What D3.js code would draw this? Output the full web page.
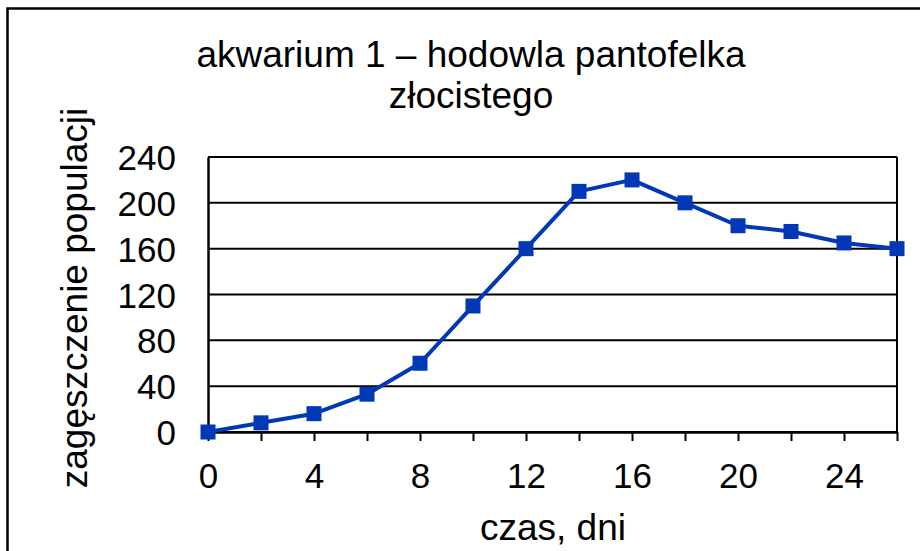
<!DOCTYPE html>
<html>
<head>
<meta charset="utf-8">
<script src="https://cdn.jsdelivr.net/npm/d3@7/dist/d3.min.js"></script>
<style>
  html, body { margin: 0; padding: 0; background: #fff; }
  svg { display: block; font-family: "Liberation Sans", Arial, sans-serif; }
</style>
</head>
<body>
<svg id="chart" width="920" height="551"></svg>
<script>
(function(){
"use strict";

// data
const days = [0, 2, 4, 6, 8, 10, 12, 14, 16, 18, 20, 22, 24, 26];
const density = [0, 8, 16, 33, 60, 110, 160, 210, 220, 200, 180, 175, 165, 160];
const xTickLabels = [0, 4, 8, 12, 16, 20, 24];
const yTickLabels = [0, 40, 80, 120, 160, 200, 240];
const titleLines = ["akwarium 1 – hodowla pantofelka", "złocistego"];
const xTitle = "czas, dni";
const yTitle = "zagęszczenie populacji";

const svg = d3.select("#chart");
const blue = "#0038b8";

// outer frame, cut off at the right and bottom edges
svg.append("rect")
  .attr("x", 7.5).attr("y", 8.5)
  .attr("width", 1000).attr("height", 1000)
  .attr("fill", "none").attr("stroke", "#000").attr("stroke-width", 2.5);

const left = 208, right = 897, top = 157, bottom = 432;

let x = d3.scaleLinear().domain([0, 26]).range([left, right]);
let y = d3.scaleLinear().domain([0, 240]).range([bottom, top]);

// gridlines
svg.append("g")
  .selectAll("line")
  .data(yTickLabels)
  .enter().append("line")
    .attr("x1", left).attr("x2", right)
    .attr("y1", d => y(d)).attr("y2", d => y(d))
    .attr("stroke", "#000").attr("stroke-width", 2);

// plot frame right edge
svg.append("line")
  .attr("x1", right).attr("x2", right)
  .attr("y1", top).attr("y2", bottom)
  .attr("stroke", "#000").attr("stroke-width", 2);

// x axis
let xAxis = svg.append("g")
  .attr("transform", `translate(0,${bottom})`)
  .call(d3.axisBottom(x).tickValues(days).tickSize(9).tickSizeOuter(0)
    .tickFormat(d => xTickLabels.indexOf(d) >= 0 ? d : ""));
xAxis.select(".domain").attr("stroke-width", 2.5);
xAxis.selectAll(".tick line").attr("stroke-width", 2);
xAxis.selectAll(".tick text")
  .attr("font-size", 35).attr("font-family", "Liberation Sans, Arial, sans-serif")
  .attr("fill", "#000").attr("dy", 0).attr("y", 56);

// y axis
let yAxis = svg.append("g")
  .attr("transform", `translate(${left},0)`)
  .call(d3.axisLeft(y).tickValues(yTickLabels).tickSize(0).tickPadding(32));
yAxis.select(".domain").attr("stroke-width", 2.5);
yAxis.selectAll(".tick text")
  .attr("font-size", 35).attr("font-family", "Liberation Sans, Arial, sans-serif")
  .attr("fill", "#000").attr("dy", "0.36em");

// series
let pts = days.map((d, i) => [d, density[i]]);
svg.append("path")
  .datum(pts)
  .attr("fill", "none")
  .attr("stroke", blue)
  .attr("stroke-width", 4)
  .attr("stroke-linejoin", "round")
  .attr("d", d3.line().x(d => x(d[0])).y(d => y(d[1])));

const ms = 15;
svg.append("g")
  .selectAll("rect")
  .data(pts)
  .enter().append("rect")
    .attr("x", d => x(d[0]) - ms / 2)
    .attr("y", d => y(d[1]) - ms / 2)
    .attr("width", ms).attr("height", ms)
    .attr("fill", blue);

// titles
svg.append("text")
  .attr("text-anchor", "middle")
  .attr("font-size", 37).attr("fill", "#000")
  .selectAll("tspan")
  .data(titleLines)
  .enter().append("tspan")
    .attr("x", 471)
    .attr("y", (d, i) => 67 + i * 41)
    .text(d => d);

svg.append("text")
  .attr("x", 553).attr("y", 540)
  .attr("text-anchor", "middle")
  .attr("font-size", 37).attr("fill", "#000")
  .text(xTitle);

svg.append("text")
  .attr("transform", "translate(87,298) rotate(-90)")
  .attr("text-anchor", "middle")
  .attr("font-size", 37).attr("fill", "#000")
  .text(yTitle);

})();
</script>
</body>
</html>
